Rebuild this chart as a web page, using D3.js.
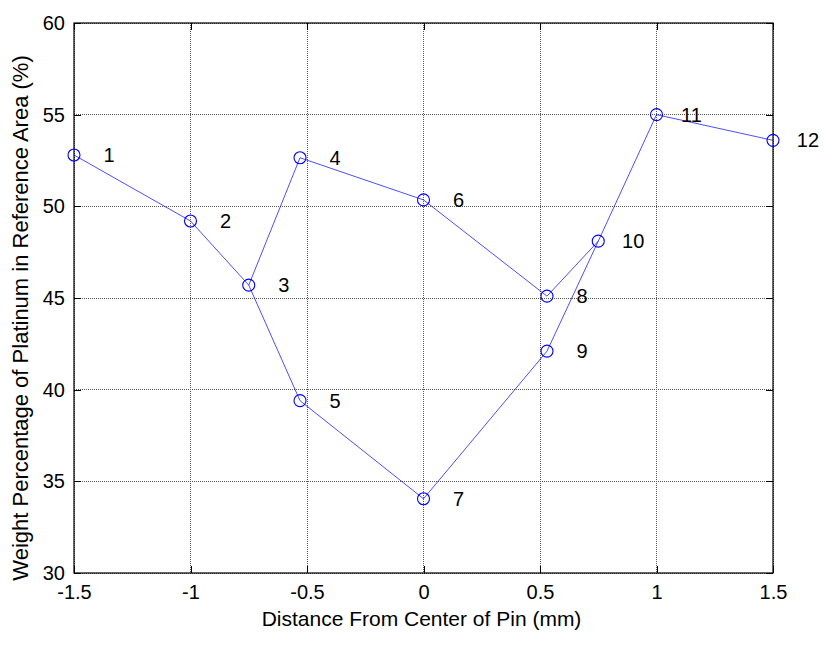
<!DOCTYPE html>
<html>
<head>
<meta charset="utf-8">
<script src="https://cdn.jsdelivr.net/npm/d3@7"></script>
<style>
  html, body { margin: 0; padding: 0; background: #fff; }
  svg { display: block; font-family: "Liberation Sans", Arial, Helvetica, sans-serif; }
</style>
</head>
<body>
<svg id="chart" width="825" height="645"></svg>
<script>
// Measurement points: distance from pin centre (mm) and Pt weight %
const pointIds = [1, 2, 3, 4, 5, 6, 7, 8, 9, 10, 11, 12];
const distances = [-1.5, -1, -0.75, -0.53, -0.53, 0, 0, 0.53, 0.53, 0.75, 1, 1.5];
const ptWeight = [52.8, 49.2, 45.7, 52.65, 39.4, 50.35, 34.05, 45.1, 42.1, 48.1, 55.0, 53.6];

// The two traverses joining the points (by point id)
const upperRoute = [1, 2, 3, 4, 6, 8, 10, 11, 12];
const lowerRoute = [3, 5, 7, 9, 10];

const xTicks = [-1.5, -1, -0.5, 0, 0.5, 1, 1.5];
const xTickLabels = ["-1.5", "-1", "-0.5", "0", "0.5", "1", "1.5"];
const yTicks = [30, 35, 40, 45, 50, 55, 60];
const yTickLabels = ["30", "35", "40", "45", "50", "55", "60"];

const xTitle = "Distance From Center of Pin (mm)";
const yTitle = "Weight Percentage of Platinum in Reference Area (%)";
const labelOffset = 0.15; // id labels sit this far (mm) to the right of each point

const svg = d3.select("#chart");
const box = { left: 74, right: 773, top: 23, bottom: 573 };

const x = d3.scaleLinear().domain([-1.5, 1.5]).range([box.left, box.right]);
const y = d3.scaleLinear().domain([30, 60]).range([box.bottom, box.top]);

const fontSize = 20;
const tickLen = 7;

// dotted grid
const grid = svg.append("g");
grid.selectAll("line.gx").data(xTicks).join("line")
  .attr("x1", d => x(d)).attr("x2", d => x(d))
  .attr("y1", box.top).attr("y2", box.bottom)
  .attr("stroke", "#555").attr("stroke-width", 1)
  .attr("stroke-dasharray", "1,1").attr("shape-rendering", "crispEdges");
grid.selectAll("line.gy").data(yTicks).join("line")
  .attr("y1", d => y(d)).attr("y2", d => y(d))
  .attr("x1", box.left).attr("x2", box.right)
  .attr("stroke", "#555").attr("stroke-width", 1)
  .attr("stroke-dasharray", "1,1").attr("shape-rendering", "crispEdges");

// axes with inward ticks on all four sides
const axisStyle = g => {
  g.select(".domain").remove();
  g.selectAll(".tick line").attr("stroke", "#000").attr("shape-rendering", "crispEdges");
  g.selectAll(".tick text").attr("fill", "#000").attr("font-size", fontSize)
    .attr("font-family", "Liberation Sans, Arial, sans-serif");
};

svg.append("g").attr("transform", `translate(0,${box.bottom})`)
  .call(d3.axisBottom(x).tickValues(xTicks).tickFormat((d, i) => xTickLabels[i])
        .tickSizeInner(-tickLen).tickSizeOuter(0).tickPadding(12))
  .call(axisStyle)
  .call(g => g.selectAll(".tick text").attr("dy", "0.71em"));

svg.append("g").attr("transform", `translate(0,${box.top})`)
  .call(d3.axisTop(x).tickValues(xTicks).tickFormat("")
        .tickSizeInner(-tickLen).tickSizeOuter(0))
  .call(axisStyle);

svg.append("g").attr("transform", `translate(${box.left},0)`)
  .call(d3.axisLeft(y).tickValues(yTicks).tickFormat((d, i) => yTickLabels[i])
        .tickSizeInner(-tickLen).tickSizeOuter(0).tickPadding(9))
  .call(axisStyle);

svg.append("g").attr("transform", `translate(${box.right},0)`)
  .call(d3.axisRight(y).tickValues(yTicks).tickFormat("")
        .tickSizeInner(-tickLen).tickSizeOuter(0))
  .call(axisStyle);

// axes box
svg.append("rect")
  .attr("x", box.left).attr("y", box.top)
  .attr("width", box.right - box.left).attr("height", box.bottom - box.top)
  .attr("fill", "none").attr("stroke", "#000").attr("stroke-width", 1.2);

// axis titles
svg.append("text")
  .attr("x", (box.left + box.right) / 2 - 2).attr("y", 626)
  .attr("text-anchor", "middle").attr("font-size", 21).attr("fill", "#000")
  .text(xTitle);

svg.append("text")
  .attr("transform", `translate(28,318) rotate(-90)`)
  .attr("text-anchor", "middle").attr("font-size", 22).attr("fill", "#000")
  .text(yTitle);

// data
const points = pointIds.map((id, i) => ({ id, x: distances[i], y: ptWeight[i] }));
const byId = new Map(points.map(p => [p.id, p]));

const line = d3.line().x(d => x(d.x)).y(d => y(d.y));
const plot = svg.append("g");
[upperRoute, lowerRoute].forEach(route => {
  plot.append("path")
    .datum(route.map(id => byId.get(id)))
    .attr("d", line)
    .attr("fill", "none").attr("stroke", "#0000ff").attr("stroke-width", 0.7);
});

plot.selectAll("circle").data(points).join("circle")
  .attr("cx", d => x(d.x)).attr("cy", d => y(d.y)).attr("r", 6)
  .attr("fill", "none").attr("stroke", "#0000ff").attr("stroke-width", 1.1);

plot.selectAll("text.pid").data(points).join("text")
  .attr("class", "pid")
  .attr("x", d => x(d.x + labelOffset)).attr("y", d => y(d.y))
  .attr("dy", "0.35em")
  .attr("text-anchor", "middle").attr("font-size", fontSize).attr("fill", "#000")
  .text(d => d.id);
</script>
</body>
</html>
